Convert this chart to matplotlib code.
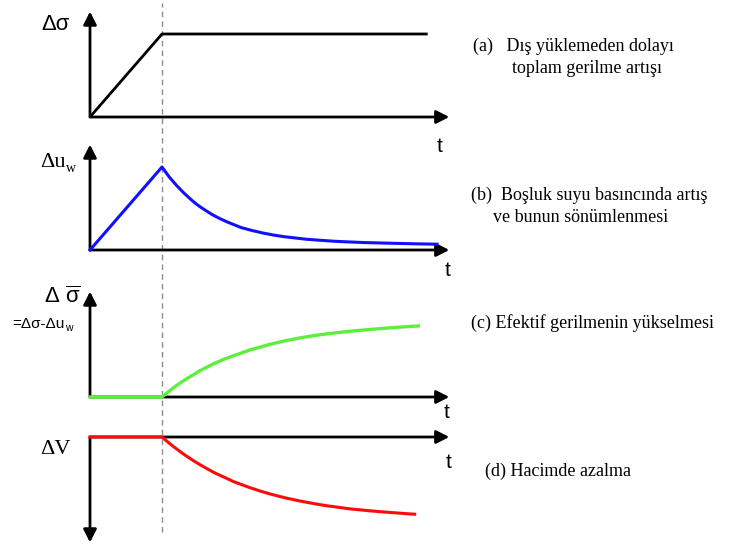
import matplotlib
matplotlib.use("Agg")
import matplotlib.pyplot as plt

plt.rcParams['mathtext.fontset'] = 'custom'
plt.rcParams['mathtext.rm'] = 'Liberation Sans'
plt.rcParams['mathtext.it'] = 'Liberation Sans:italic'

# ---- data (time in units of loading time, values relative) ----
t_a = [0, 1, 4.69]
sigma_a = [0, 1, 1]

t_b = [0, 1.0, 1.05, 1.1, 1.15, 1.2, 1.25, 1.3, 1.35, 1.4, 1.46, 1.53, 1.6, 1.7, 1.8, 1.9, 2.0,
       2.1, 2.25, 2.4, 2.55, 2.7, 2.85, 3.0, 3.2, 3.4, 3.6, 3.8, 4.05, 4.3, 4.55, 4.82]
uw_b = [0, 1.0, 0.94, 0.88, 0.83, 0.78, 0.735, 0.69, 0.65, 0.61, 0.565, 0.52, 0.48, 0.425, 0.38,
        0.34, 0.305, 0.27, 0.235, 0.205, 0.18, 0.16, 0.145, 0.13, 0.117, 0.105, 0.097, 0.09,
        0.084, 0.079, 0.074, 0.07]

t_c = [0, 1, 1.05, 1.1, 1.15, 1.2, 1.28, 1.35, 1.44, 1.53, 1.64, 1.75, 1.87, 2.0, 2.12, 2.22,
       2.36, 2.5, 2.7, 2.92, 3.1, 3.3, 3.45, 3.61, 3.8, 4.0, 4.15, 4.31, 4.45, 4.56]
eff_c = [0, 0, 0.036, 0.071, 0.105, 0.137, 0.185, 0.224, 0.27, 0.318, 0.367, 0.413, 0.458,
         0.50, 0.535, 0.567, 0.60, 0.635, 0.675, 0.713, 0.738, 0.762, 0.777, 0.792, 0.807,
         0.822, 0.832, 0.842, 0.85, 0.856]

t_d = [0, 1, 1.05, 1.1, 1.15, 1.2, 1.28, 1.35, 1.44, 1.53, 1.64, 1.75, 1.87, 2.0, 2.12, 2.22,
       2.36, 2.5, 2.7, 2.92, 3.1, 3.3, 3.45, 3.61, 3.8, 4.0, 4.15, 4.31, 4.45, 4.51]
dv_d = [0, 0, -0.038, -0.074, -0.109, -0.142, -0.194, -0.236, -0.287, -0.335, -0.389, -0.44,
        -0.487, -0.54, -0.578, -0.61, -0.65, -0.686, -0.731, -0.772, -0.801, -0.83, -0.847,
        -0.866, -0.882, -0.898, -0.908, -0.918, -0.927, -0.93]

t_load = 1.0
x_axis_end = 4.99
y_axis_len = 1.27

# ---- layout ----
W, H = 737, 548
X0 = 90          # px of time origin
SX = 72.0        # px per time unit
SY = 83.0        # px per value unit
origins = {'a': 117, 'b': 250, 'c': 397, 'd': 437}

fig = plt.figure(figsize=(W / 100, H / 100), dpi=100)


def panel(oy):
    ax = fig.add_axes([0, 0, 1, 1])
    ax.set_xlim(-X0 / SX, (W - X0) / SX)
    ax.set_ylim(-(H - oy) / SY, oy / SY)
    ax.axis('off')
    ax.patch.set_alpha(0)
    return ax


def arrow(ax, start, end):
    ax.annotate('', xy=end, xytext=start,
                arrowprops=dict(arrowstyle='-|>,head_length=0.55,head_width=0.28',
                                lw=2.0, color='black', mutation_scale=14,
                                shrinkA=0, shrinkB=0))


def ftext(x, y, s, **kw):
    fig.text(x / W, 1 - y / H, s, **kw)


axa = panel(origins['a'])
axb = panel(origins['b'])
axc = panel(origins['c'])
axd = panel(origins['d'])

# dashed vertical line at end of loading
axa.axvline(t_load, ymin=1 - 532 / H, ymax=1 - 3 / H, color='#8c8c8c',
            lw=1.0, ls=(0, (4, 3)), zorder=1)

# axes arrows
for ax in (axa, axb, axc):
    arrow(ax, (0, 0), (0, y_axis_len))
    arrow(ax, (0, 0), (x_axis_end, 0))
arrow(axd, (0, 0), (0, -y_axis_len))
arrow(axd, (0, 0), (x_axis_end, 0))

# curves
axa.plot(t_a, sigma_a, color='black', lw=2.0, solid_capstyle='butt', zorder=3)
axb.plot(t_b, uw_b, color='#1010ff', lw=2.2, zorder=3)
axc.plot(t_c, eff_c, color='#5cf03c', lw=2.4, zorder=3)
axd.plot(t_d, dv_d, color='#ff0a0a', lw=2.2, zorder=3)

# 't' labels
sans = 'Liberation Sans'
serif = 'Liberation Serif'
for (x, y) in [(440, 146), (448, 270), (447, 413), (449, 462)]:
    ftext(x, y, 't', family=sans, fontsize=15, ha='center', va='center')

# left labels
ftext(41, 30, 'Δσ', family=sans, fontsize=16, ha='left', va='baseline')
ftext(40, 167, 'Δu', family=serif, fontsize=16, ha='left', va='baseline')
ftext(66, 172, 'w', family=serif, fontsize=10, ha='left', va='baseline')
ftext(44, 303, r'$\Delta\ \overline{\mathrm{\sigma}}$', fontsize=16, ha='left', va='baseline')
ftext(12, 328, '=Δσ-Δu', family=sans, fontsize=11, ha='left', va='baseline')
ftext(65, 331, 'w', family=sans, fontsize=7.5, ha='left', va='baseline')
ftext(40, 454, 'ΔV', family=serif, fontsize=16, ha='left', va='baseline')

# right descriptions
fs = 13
ftext(473, 51, '(a)   Dış yüklemeden dolayı', family=serif, fontsize=fs, va='baseline')
ftext(512, 73, 'toplam gerilme artışı', family=serif, fontsize=fs, va='baseline')
ftext(471, 200, '(b)  Boşluk suyu basıncında artış', family=serif, fontsize=fs, va='baseline')
ftext(493, 222, 've bunun sönümlenmesi', family=serif, fontsize=fs, va='baseline')
ftext(471, 328, '(c) Efektif gerilmenin yükselmesi', family=serif, fontsize=fs, va='baseline')
ftext(485, 476, '(d) Hacimde azalma', family=serif, fontsize=fs, va='baseline')

fig.savefig('out.png', dpi=100)
